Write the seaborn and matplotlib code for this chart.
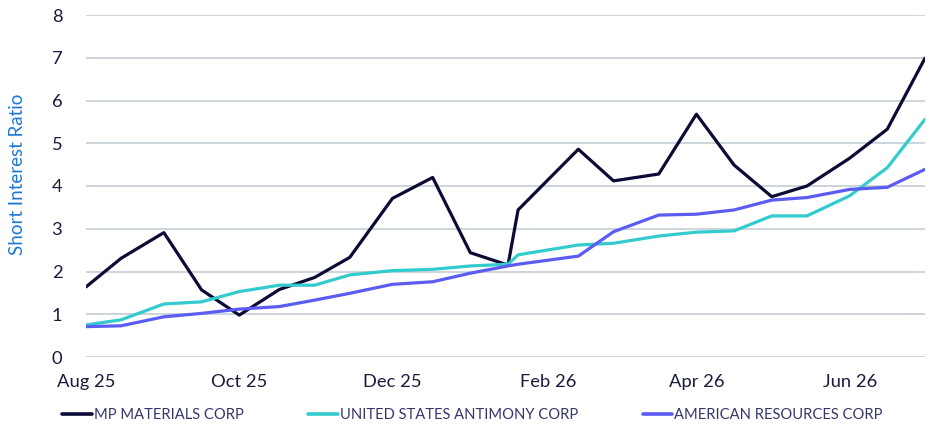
import matplotlib
matplotlib.use("Agg")
import matplotlib.pyplot as plt
import matplotlib.dates as mdates
import seaborn as sns
import pandas as pd

dates = ["2025-08-15", "2025-08-29", "2025-09-15", "2025-09-30", "2025-10-15",
         "2025-10-31", "2025-11-14", "2025-11-28", "2025-12-15", "2025-12-31",
         "2026-01-15", "2026-01-30", "2026-02-03", "2026-02-27", "2026-03-13",
         "2026-03-31", "2026-04-15", "2026-04-30", "2026-05-15", "2026-05-29",
         "2026-06-15", "2026-06-30", "2026-07-15"]

mp_materials = [1.64, 2.31, 2.91, 1.57, 0.98, 1.58, 1.86, 2.33, 3.71, 4.20, 2.44, 2.15,
                3.44, 4.86, 4.12, 4.28, 5.68, 4.49, 3.75, 4.00, 4.65, 5.33, 6.99]
us_antimony = [0.75, 0.87, 1.24, 1.29, 1.53, 1.68, 1.68, 1.92, 2.02, 2.05, 2.13, 2.17,
               2.39, 2.62, 2.66, 2.83, 2.92, 2.95, 3.30, 3.30, 3.77, 4.43, 5.56]
american_res = [0.71, 0.73, 0.94, 1.02, 1.12, 1.18, 1.33, 1.49, 1.70, 1.76, 1.96, 2.13,
                2.17, 2.36, 2.93, 3.32, 3.34, 3.44, 3.67, 3.73, 3.92, 3.97, 4.39]

series_names = ["MP MATERIALS CORP", "UNITED STATES ANTIMONY CORP", "AMERICAN RESOURCES CORP"]
colors = ["#0b0b36", "#33cbcd", "#5a5cf2"]
y_ticks = [0, 1, 2, 3, 4, 5, 6, 7, 8]
x_ticks = ["2025-08-15", "2025-10-15", "2025-12-15", "2026-02-15", "2026-04-15", "2026-06-15"]

df = pd.DataFrame({
    "date": pd.to_datetime(dates * 3),
    "value": mp_materials + us_antimony + american_res,
    "series": [series_names[0]] * len(dates) + [series_names[1]] * len(dates) + [series_names[2]] * len(dates),
})

sns.set_theme(style="white")
plt.rcParams["font.family"] = ["Lato", "DejaVu Sans"]

fig = plt.figure(figsize=(9.45, 4.37), dpi=100)
ax = fig.add_axes([86 / 945, 1 - 357 / 437, (925 - 86) / 945, (357 - 15) / 437])

sns.lineplot(data=df, x="date", y="value", hue="series", hue_order=series_names,
             palette=colors, linewidth=2.3, ax=ax, legend=False)

ax.set_ylim(0, 8)
ax.set_xlim(pd.Timestamp(dates[0]), pd.Timestamp(dates[-1]))
ax.set_yticks(y_ticks)
ax.set_xticks(pd.to_datetime(x_ticks))
ax.xaxis.set_major_formatter(mdates.DateFormatter("%b %y"))
ax.grid(axis="y", color="#c9d1d9", linewidth=1.3)
ax.grid(axis="x", visible=False)
for s in ax.spines.values():
    s.set_visible(False)
ax.tick_params(axis="both", length=0, labelsize=13.2, colors="#1b1b40")
ax.tick_params(axis="y", pad=17)
ax.tick_params(axis="x", pad=12)
ax.set_xlabel("")
ax.set_ylabel("Short Interest Ratio", fontsize=13.5, color="#1f78d6")
ax.yaxis.set_label_coords(-60 / 839, (357 - 174) / 342)

handles = [plt.Line2D([], [], color=c, linewidth=2.6) for c in colors]
leg = fig.legend(handles, series_names, loc="center", bbox_to_anchor=(0.5, 1 - 415 / 437),
                 ncol=3, frameon=False, fontsize=10.6, handlelength=2.0, handletextpad=0.14,
                 columnspacing=4.4, labelcolor="#35356a")

fig.savefig("out.png", dpi=100)
